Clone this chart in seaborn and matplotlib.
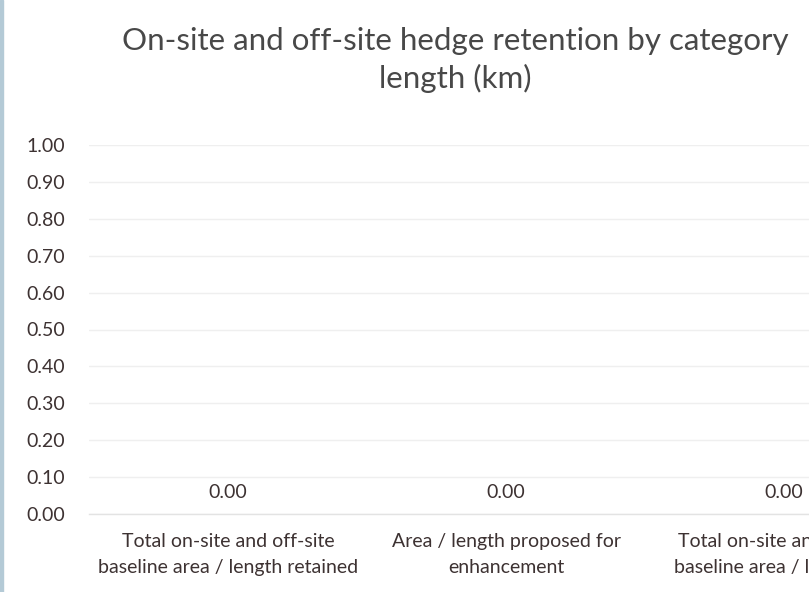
import pandas as pd
import numpy as np
import matplotlib.pyplot as plt
import matplotlib.patches as mpatches
import seaborn as sns

sns.set_theme(style="white")
plt.rcParams['font.family'] = ['Lato', 'DejaVu Sans']

# chart data
categories = [
    "Total on-site and off-site\nbaseline area / length retained",
    "Area / length proposed for\nenhancement",
    "Total on-site and off-site\nbaseline area / length lost",
]
values = [0.0, 0.0, 0.0]
y_ticks = [0.0, 0.1, 0.2, 0.3, 0.4, 0.5, 0.6, 0.7, 0.8, 0.9, 1.0]

text_col = '#3d3232'
grid_col = '#efefef'

df = pd.DataFrame({'category': categories, 'value': values})

fig = plt.figure(figsize=(8.09, 5.92), dpi=100)
# plot area runs past the right edge, as in the cropped reference
ax = fig.add_axes([89 / 809, 78 / 592, 834 / 809, 369 / 592])

sns.barplot(data=df, x='category', y='value', color='#4472c4', width=0.55, ax=ax)

for c in ax.containers:
    ax.bar_label(c, fmt='%.2f', padding=9, fontsize=14, color=text_col)

ax.set_ylim(0, 1.0)
ax.set_xlim(-0.5, len(categories) - 0.5)
ax.set_yticks(y_ticks)
ax.set_yticklabels([f"{t:.2f}" for t in y_ticks], fontsize=14, color=text_col)
ax.tick_params(axis='y', length=0, pad=17)
ax.set_xticks(range(len(categories)))
ax.set_xticklabels(categories, fontsize=14, color=text_col, linespacing=1.62)
ax.tick_params(axis='x', which='major', length=0, pad=14)
ax.set_xticks(np.arange(-0.5, len(categories)), minor=True)
ax.tick_params(axis='x', which='minor', length=5, color='#e3e3e3', width=1)
ax.set_xlabel('')
ax.set_ylabel('')

ax.yaxis.grid(True, color=grid_col, linewidth=1)
ax.set_axisbelow(True)
for side in ['top', 'right', 'left']:
    ax.spines[side].set_visible(False)
ax.spines['bottom'].set_color('#e3e3e3')
ax.spines['bottom'].set_linewidth(1)

fig.text(455 / 809, 1 - 60 / 592,
         "On-site and off-site hedge retention by category\nlength (km)",
         ha='center', va='center', fontsize=22.5, color='#484848', linespacing=1.38)

# thin frame strip on the left edge
fig.patches.append(mpatches.Rectangle((0, 0), 3 / 809, 1, transform=fig.transFigure,
                                      color='#b4cad6', zorder=10))

fig.savefig('out.png', dpi=100)
